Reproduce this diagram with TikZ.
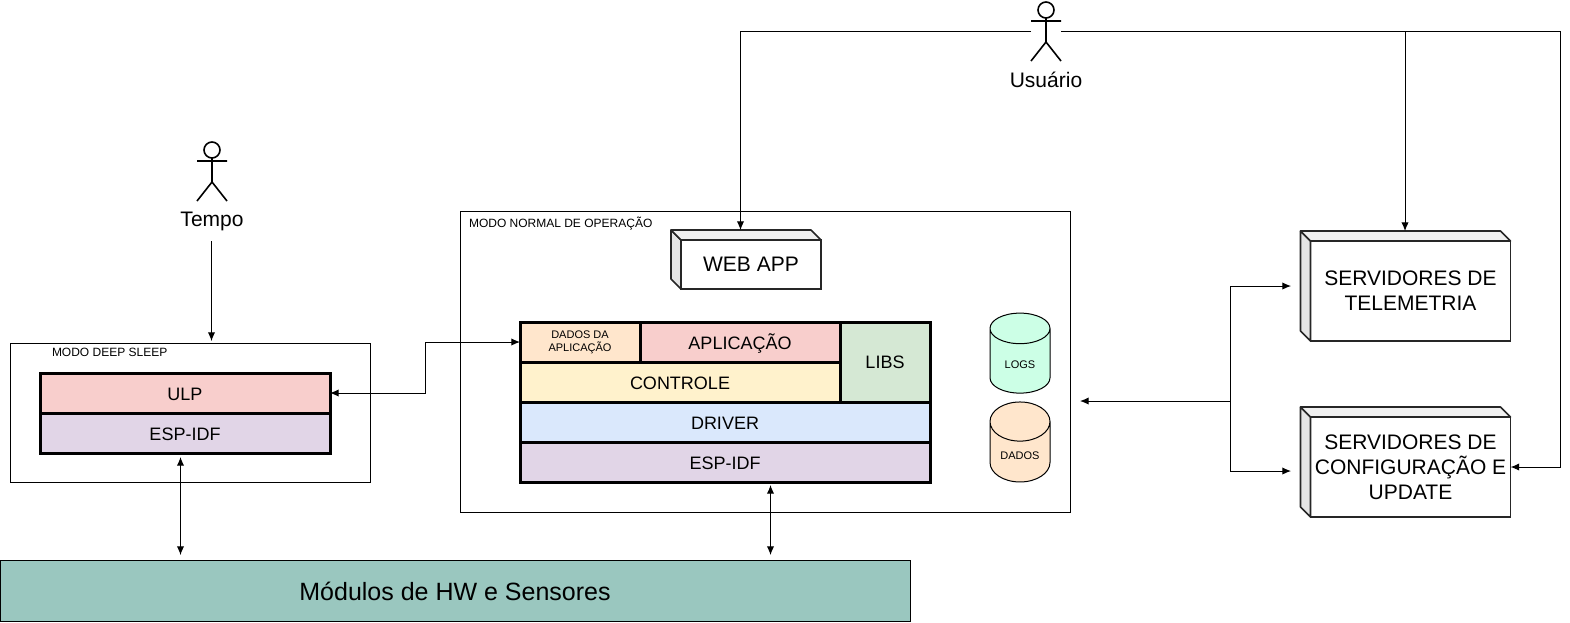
\documentclass[tikz,border=0pt]{standalone}
\usepackage{fontspec}
\setmainfont{Liberation Sans}
\usepackage{tikz}
\usetikzlibrary{arrows, arrows.meta, shapes, shapes.geometric, positioning}

\def\px{0.75pt}
\newcommand{\sizeS}{\fontsize{9}{10.5}\selectfont}
\newcommand{\sizeL}{\fontsize{13.5}{16}\selectfont}
\newcommand{\sizeX}{\fontsize{15.75}{18.75}\selectfont}
\definecolor{ulpred}{HTML}{F8CECC}
\definecolor{idfpurple}{HTML}{E1D5E7}
\definecolor{dataorange}{HTML}{FFE6CC}
\definecolor{ctrlyellow}{HTML}{FFF2CC}
\definecolor{driverblue}{HTML}{DAE8FC}
\definecolor{libgreen}{HTML}{D5E8D4}
\definecolor{logmint}{HTML}{CCFFE6}
\definecolor{hwteal}{HTML}{9AC7BF}

\tikzset{
    layer/.style={draw, line width=2.25pt, inner sep=0pt, outer sep=0pt, align=center, font=\sizeL},
    flat/.style={layer, text height=11pt, text depth=0pt},
    frame/.style={draw, line width=0.75pt, inner sep=0pt, outer sep=0pt},
    caption/.style={inner sep=0pt, outer sep=0pt, font=\sizeS},
    cube/.style={draw=black!85, line width=1.2pt, fill=white, inner sep=0pt, outer sep=0pt, align=center, font=\sizeX},
    drum/.style={draw, line width=0.75pt, cylinder, shape border rotate=90, shape aspect=1,
        minimum width=60*\px, minimum height=80*\px, inner sep=0pt, outer sep=0pt,
        font=\fontsize{8.25}{10}\selectfont},
    link/.style={line width=0.75pt},
    person/.style={minimum width=30*\px, minimum height=60*\px, inner sep=0pt, outer sep=0pt},
    who/.style={inner sep=0pt, outer sep=0pt, font=\sizeX},
    actor/.pic={
        \draw[line width=1.2pt] (0,-21) circle (8);
        \draw[line width=1.2pt] (-15,-10) -- (15,-10) (0,-13) -- (0,11) (-15,30) -- (0,11) -- (15,30);
    }
}

\newcommand{\cubefaces}[1]{
    \draw[draw=black!85, line width=1.2pt, fill=black!10, line join=round] (#1.north west) -- ++(-10,-10) -- ([shift={(-10,-10)}]#1.south west) -- (#1.south west) -- cycle;
    \draw[draw=black!85, line width=1.2pt, fill=black!6, line join=round] (#1.north west) -- ++(-10,-10) -- ([shift={(-10,-10)}]#1.north east) -- (#1.north east) -- cycle;
}

\begin{document}
\begin{tikzpicture}[x=\px, y=-\px, >={Latex[length=6.5pt,width=5.5pt]}]
            \useasboundingbox (0,0) rectangle (1570,622);

            % frames
            \node[frame, anchor=north west, minimum width=360*\px, minimum height=139*\px] (deepframe) at (10.5,343) {};
            \node[frame, anchor=north west, minimum width=610*\px, minimum height=301*\px] (normalframe) at (460,211) {};
            \node[caption, anchor=west] (deepcap) at (52,352.5) {MODO DEEP SLEEP};
            \node[caption, anchor=west] (normalcap) at (469,223.5) {MODO NORMAL DE OPERAÇÃO};

            % deep sleep stack
            \node[flat, fill=ulpred, anchor=north west, minimum width=290*\px, minimum height=40*\px] (ulp) at (40,373) {ULP};
            \node[flat, fill=idfpurple, minimum width=290*\px, minimum height=40*\px] (deepidf) [below = 0pt of ulp] {ESP-IDF};

            % normal stack
            \node[layer, fill=dataorange, anchor=north west, minimum width=120*\px, minimum height=40*\px, font=\fontsize{8.25}{9.75}\selectfont] (appdata) at (520,322) {DADOS DA\\APLICAÇÃO};
            \node[flat, fill=ulpred, minimum width=200*\px, minimum height=40*\px] (app) [right = 0pt of appdata] {APLICAÇÃO};
            \node[flat, fill=ctrlyellow, minimum width=320*\px, minimum height=40*\px] (ctrl) [below right = 0pt and 0pt of appdata.south west] {CONTROLE};
            \node[layer, fill=libgreen, minimum width=90*\px, minimum height=80*\px] (libs) [below right = 0pt and 0pt of app.north east] {LIBS};
            \node[flat, fill=driverblue, minimum width=410*\px, minimum height=40*\px] (driver) [below right = 0pt and 0pt of ctrl.south west] {DRIVER};
            \node[flat, fill=idfpurple, minimum width=410*\px, minimum height=40*\px] (normalidf) [below = 0pt of driver] {ESP-IDF};

            % databases
            \node[drum, fill=logmint] (logs) at (1020,361) {\raisebox{-5.25pt}[0pt][0pt]{LOGS}};
            \node[drum, fill=dataorange] (dados) at (1020,452) {\raisebox{-5.25pt}[0pt][0pt]{DADOS}};

            % cubes
            \node[cube, anchor=north west, minimum width=140*\px, minimum height=49*\px] (webapp) at (681,240) {WEB APP};
            \node[cube, anchor=north west, minimum width=200*\px, minimum height=100*\px] (telemetry) at (1310.5,241) {SERVIDORES DE\\TELEMETRIA};
            \node[cube, anchor=north west, minimum width=200*\px, minimum height=100*\px] (config) at (1310.5,417) {SERVIDORES DE\\CONFIGURAÇÃO E\\UPDATE};
            \cubefaces{webapp}
            \cubefaces{telemetry}
            \cubefaces{config}

            \node[draw, line width=0.75pt, fill=hwteal, anchor=north west, minimum width=910*\px, minimum height=61*\px, inner sep=0pt, outer sep=0pt, font=\fontsize{18.75}{24}\selectfont] (hw) at (0,560.5) {Módulos de HW e Sensores};

            % actors
            \node[person] (usuario) at (1046,31) {};
            \pic at (usuario) {actor};
            \node[who] (usuariolabel) [below = 11*\px of usuario] {Usuário};
            \node[person] (tempo) at (212,171) {};
            \pic at (tempo) {actor};
            \node[who] (tempolabel) [below = 11*\px of tempo] {Tempo};

            % free ends and bends
            \coordinate (webin) at (740.5,230);
            \coordinate (rightbend) at (1560.5,31);
            \coordinate (teletap) at (1405,31);
            \coordinate (telein) at (1405,231);
            \coordinate (configin) at (config.east |- 0,467);
            \coordinate (tempoout) at (211.5,241);
            \coordinate (deepin) at (211.5,341);
            \coordinate (linkbend) at (425.5,342);
            \coordinate (deepup) at (180.5,457);
            \coordinate (deepdown) at (180.5,555);
            \coordinate (normalup) at (770.5,485);
            \coordinate (normaldown) at (770.5,555);
            \coordinate (srvleft) at (1080,401);
            \coordinate (srvfork) at (1230,401);
            \coordinate (teleleft) at (1291,286);
            \coordinate (configleft) at (1291,471);

            \draw[->, link] (usuario.west) -| (webin);
            \draw[->, link] (usuario.east) -- (rightbend) |- (configin);
            \draw[->, link] (teletap) -- (telein);
            \draw[->, link] (tempoout) -- (deepin);
            \draw[<->, link] (ulp.east) -| (linkbend) -- (appdata.west);
            \draw[<->, link] (deepup) -- (deepdown);
            \draw[<->, link] (normalup) -- (normaldown);
            \draw[->, link] (srvfork) -- (srvleft);
            \draw[->, link] (srvfork) |- (teleleft);
            \draw[->, link] (srvfork) |- (configleft);
        \end{tikzpicture}
\end{document}
